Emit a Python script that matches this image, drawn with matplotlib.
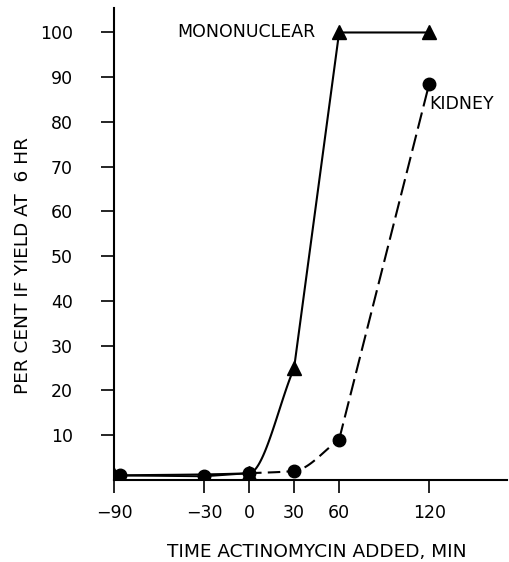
import numpy as np
import matplotlib
matplotlib.use("Agg")
import matplotlib.pyplot as plt

mono_x = [-90, 0, 30, 60, 120]
mono_y = [1.0, 1.5, 25, 100, 100]
kid_x = [-86, -30, 0, 30, 60, 120]
kid_y = [1.0, 0.8, 1.5, 2.0, 9.0, 88.5]
xticks = [-90, -30, 0, 30, 60, 120]
yticks = [10, 20, 30, 40, 50, 60, 70, 80, 90, 100]


def pchip(x, y, n=60):
    x = np.asarray(x, float); y = np.asarray(y, float)
    h = np.diff(x); d = np.diff(y) / h
    m = np.zeros_like(y)
    for k in range(1, len(x) - 1):
        if d[k - 1] * d[k] > 0:
            w1 = 2 * h[k] + h[k - 1]; w2 = h[k] + 2 * h[k - 1]
            m[k] = (w1 + w2) / (w1 / d[k - 1] + w2 / d[k])
    m[0] = d[0]; m[-1] = d[-1]
    xs, ys = [], []
    for k in range(len(x) - 1):
        t = np.linspace(0, 1, n)
        h00 = 2*t**3 - 3*t**2 + 1; h10 = t**3 - 2*t**2 + t
        h01 = -2*t**3 + 3*t**2; h11 = t**3 - t**2
        xs.append(x[k] + t * h[k])
        ys.append(h00*y[k] + h10*h[k]*m[k] + h01*y[k+1] + h11*h[k]*m[k+1])
    return np.concatenate(xs), np.concatenate(ys)

fig = plt.figure(figsize=(5.10, 5.62), dpi=100)
ax = fig.add_axes([0.2235, 0.146, 0.771, 0.84])

# mononuclear: solid, smooth rise then straight
mx, my = pchip(mono_x[:3], mono_y[:3])
ax.plot(mx, my, color="black", lw=1.5)
ax.plot(mono_x[2:], mono_y[2:], color="black", lw=1.5)
ax.plot(mono_x, mono_y, linestyle="none", marker="^", color="black", markersize=10)

# kidney: solid near baseline, dashed rise
ax.plot(kid_x[:3], kid_y[:3], color="black", lw=1.3)
kx, ky = pchip(kid_x[2:5], kid_y[2:5])
ax.plot(kx, ky, color="black", lw=1.5, dashes=(6, 3))
ax.plot(kid_x[4:], kid_y[4:], color="black", lw=1.5, dashes=(8, 3))
ax.plot(kid_x, kid_y, linestyle="none", marker="o", color="black", markersize=9)

ax.set_xlim(-90, 172)
ax.set_ylim(0, 105.5)
ax.set_xticks(xticks)
ax.set_xticklabels(["\u221290", "\u221230", "0", "30", "60", "120"])
ax.set_yticks(yticks)
ax.spines["top"].set_visible(False)
ax.spines["right"].set_visible(False)
ax.spines["left"].set_linewidth(1.5)
ax.spines["bottom"].set_linewidth(1.5)
ax.tick_params(axis="both", direction="out", length=9.5, width=1.2, labelsize=12.5, pad=8)
ax.tick_params(axis="y", pad=20)

ax.set_xlabel("TIME ACTINOMYCIN ADDED, MIN", fontsize=13.3)
ax.xaxis.set_label_coords(0.517, -0.133)
ax.set_ylabel("PER CENT IF YIELD AT  6 HR", fontsize=13.3)
ax.yaxis.set_label_coords(-0.209, 0.455)

ax.text(44, 100, "MONONUCLEAR", fontsize=12.5, ha="right", va="center")
ax.text(120, 84, "KIDNEY", fontsize=12.5, ha="left", va="center")

fig.savefig("out.png", dpi=100)
